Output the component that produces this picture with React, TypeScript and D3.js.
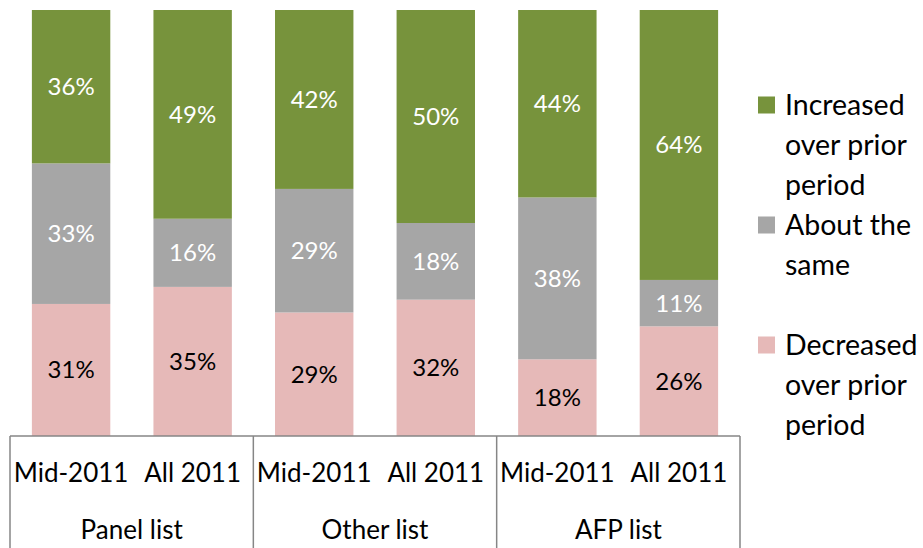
import React from "react";
import * as d3 from "d3";

const categories = ["Mid-2011", "All 2011", "Mid-2011", "All 2011", "Mid-2011", "All 2011"];
const groups = ["Panel list", "Other list", "AFP list"];
const decreased = [31, 35, 29, 32, 18, 26];
const same = [33, 16, 29, 18, 38, 11];
const increased = [36, 49, 42, 50, 44, 64];
const seriesNames = ["Decreased over prior period", "About the same", "Increased over prior period"];
const seriesKeys = ["dec", "same", "inc"];
const colors = ["#E6B9B8", "#A6A6A6", "#77933C"];
const labelColors = ["#000000", "#FFFFFF", "#FFFFFF"];

const W = 923, H = 548;
const FONT = "Lato, 'Open Sans', sans-serif";

export default function App() {
  const plotLeft = 10, plotRight = 740, top = 10, bottom = 436;
  const x = d3.scaleBand<number>().domain(d3.range(categories.length)).range([plotLeft, plotRight]).paddingInner(0.355).paddingOuter(0.18);
  const y = d3.scaleLinear().domain([0, 1]).range([bottom, top]);
  const rows = categories.map((c, i) => ({ i, dec: decreased[i], same: same[i], inc: increased[i] }));
  const stack = d3.stack<any>().keys(seriesKeys).offset(d3.stackOffsetExpand);
  const series = stack(rows);
  const groupW = (plotRight - plotLeft) / groups.length;

  const legendItems = [
    { color: colors[2], lines: ["Increased", "over prior", "period"], y0: 105 },
    { color: colors[1], lines: ["About the", "same"], y0: 225 },
    { color: colors[0], lines: ["Decreased", "over prior", "period"], y0: 345 },
  ];

  return (
    <svg width={W} height={H} style={{ position: "absolute", left: 0, top: 0 }} fontFamily={FONT}>
      <rect width={W} height={H} fill="#fff" />
      {series.map((s, si) => (
        <g key={si}>
          {s.map((d, j) => {
            const y1 = y(d[1]), y0 = y(d[0]);
            const val = [decreased, same, increased][si][j];
            return (
              <g key={j}>
                <rect x={x(j)} y={y1} width={x.bandwidth()} height={y0 - y1} fill={colors[si]} />
                <text x={(x(j) as number) + x.bandwidth() / 2} y={(y0 + y1) / 2} dy="0.35em" textAnchor="middle" fontSize={24} fill={labelColors[si]}>
                  {val}%
                </text>
              </g>
            );
          })}
        </g>
      ))}
      <line x1={plotLeft} x2={plotRight} y1={bottom} y2={bottom} stroke="#868686" strokeWidth={1.5} />
      {d3.range(groups.length + 1).map((k) => (
        <line key={k} x1={plotLeft + k * groupW} x2={plotLeft + k * groupW} y1={bottom} y2={H} stroke="#868686" strokeWidth={1.5} />
      ))}
      {categories.map((c, j) => (
        <text key={j} x={(x(j) as number) + x.bandwidth() / 2} y={473} dy="0.35em" textAnchor="middle" fontSize={26} fill="#000">
          {c}
        </text>
      ))}
      {groups.map((g, k) => (
        <text key={k} x={plotLeft + (k + 0.5) * groupW} y={530} dy="0.35em" textAnchor="middle" fontSize={26} fill="#000">
          {g}
        </text>
      ))}
      {legendItems.map((it, k) => (
        <g key={k}>
          <rect x={758} y={it.y0 - 8.5} width={17} height={17} fill={it.color} />
          {it.lines.map((l, li) => (
            <text key={li} x={785} y={it.y0 + li * 40} dy="0.35em" fontSize={28.5} fill="#000">
              {l}
            </text>
          ))}
        </g>
      ))}
    </svg>
  );
}
